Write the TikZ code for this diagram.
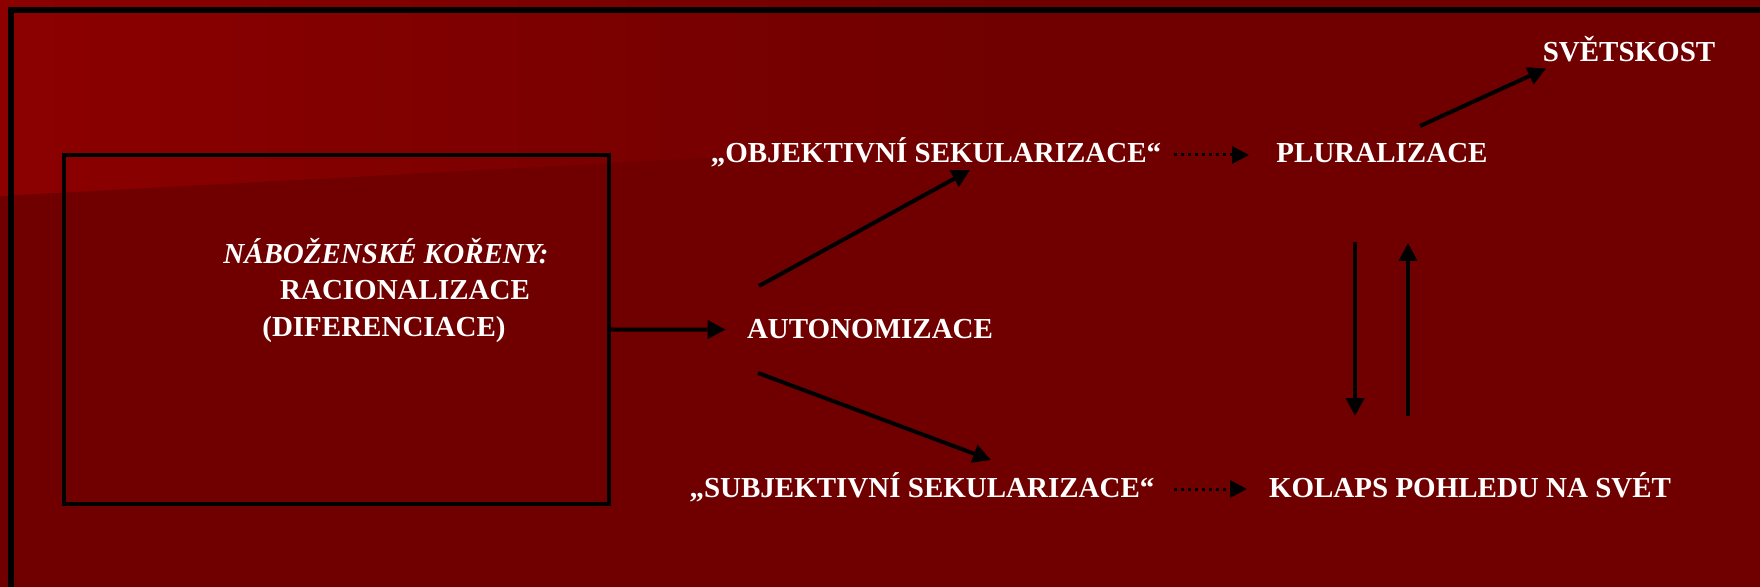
\documentclass[tikz,border=0pt]{standalone}
\usepackage{fontspec}
\setmainfont{Liberation Serif}
\usepackage{tikz}
\usetikzlibrary{arrows.meta}

\definecolor{slidedark}{RGB}{112,0,0}
\definecolor{slidelight}{RGB}{140,0,0}

\begin{document}
\begin{tikzpicture}[
			x=0.5pt, y=-0.5pt,
			every node/.style={font=\bfseries\fontsize{14.5}{17}\selectfont, text=white, inner sep=0pt},
			flow/.style={draw=black, line width=2pt, -{Triangle[length=9pt,width=9pt]}},
			hint/.style={draw=black, line width=1.5pt, dotted, -{Triangle[length=8.5pt,width=8.5pt]}},
			rootbox/.style={draw=black, line width=2pt, minimum width=272.5pt, minimum height=174.5pt}
			]
			
			% slide background
			\path[use as bounding box, clip] (0,0) rectangle (1760,587);
			\fill[slidedark] (0,0) rectangle (1760,587);
			\shade[left color=slidelight, right color=slidedark] (0,0) -- (1000,0) -- (1000,142) -- (0,196) -- cycle;
			\draw[line width=3pt] (10.7,9.7) rectangle (1800,640);
			
			% left box
			\node[rootbox] (box) at (336.5,329.5) {};
			\node[anchor=base] (roots1) at (386,264) {\textit{NÁBOŽENSKÉ KOŘENY:}};
			\node[anchor=base] (roots2) at (405,300) {RACIONALIZACE};
			\node[anchor=base] (roots3) at (384,336) {(DIFERENCIACE)};
			
			% middle and right column
			\node[anchor=base] (auto) at (870,339) {AUTONOMIZACE};
			\node[anchor=base] (objsec) at (936,163) {„OBJEKTIVNÍ SEKULARIZACE“};
			\node[anchor=base] (subjsec) at (922,497) {„SUBJEKTIVNÍ SEKULARIZACE“};
			\node[anchor=base] (plural) at (1382,163) {PLURALIZACE};
			\node[anchor=base] (kolaps) at (1470,497) {KOLAPS POHLEDU NA SVÉT};
			\node[anchor=base] (world) at (1629,62) {SVĚTSKOST};
			
			% connectors
			\draw[flow] (box.east) -- ([xshift=-10.5pt]auto.west);
			\draw[flow] ([shift={(-111,-53)}]auto.base) -- ([shift={(34,7)}]objsec.base);
			\draw[flow] ([shift={(-112,34)}]auto.base) -- ([shift={(69,-37)}]subjsec.base);
			\draw[hint] ([shift={(238,-8)}]objsec.base) -- ([shift={(-133,-8)}]plural.base);
			\draw[hint] ([shift={(252,-8)}]subjsec.base) -- ([shift={(-223,-8)}]kolaps.base);
			\draw[flow] ([shift={(38,-37)}]plural.base) -- ([shift={(-83,6.5)}]world.base);
			\draw[flow] ([shift={(-27,79)}]plural.base) -- ([shift={(-115,-81)}]kolaps.base);
			\draw[flow] ([shift={(-62,-81)}]kolaps.base) -- ([shift={(26,80)}]plural.base);
		\end{tikzpicture}
\end{document}
